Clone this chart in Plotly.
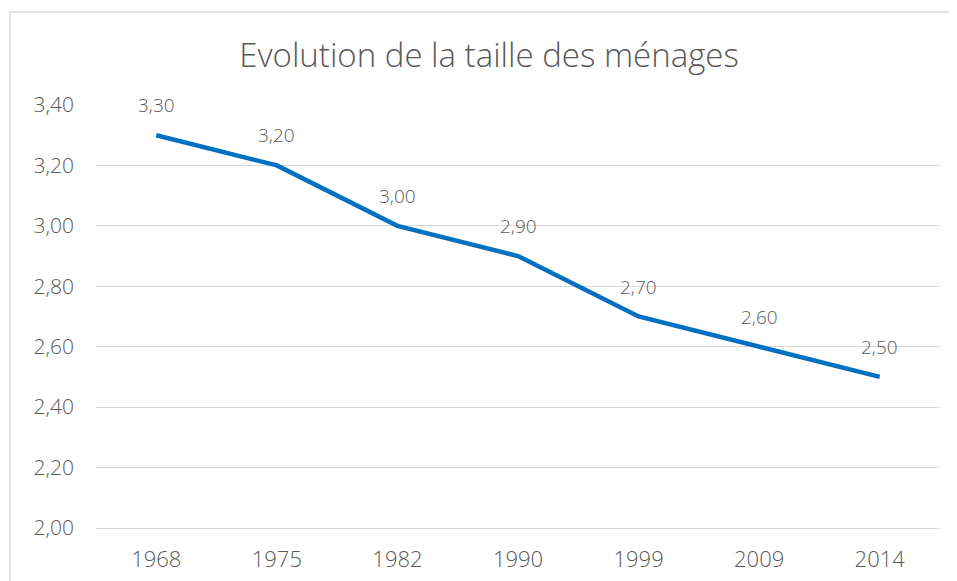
import plotly.graph_objects as go

years = ["1968", "1975", "1982", "1990", "1999", "2009", "2014"]
sizes = [3.30, 3.20, 3.00, 2.90, 2.70, 2.60, 2.50]
y_ticks = [2.00, 2.20, 2.40, 2.60, 2.80, 3.00, 3.20, 3.40]

FONT = "Open Sans"
GREY = "#595959"
GRID = "#d9d9d9"
WT = 300

fig = go.Figure()
fig.add_trace(go.Scatter(
    x=years, y=sizes, mode="lines",
    line=dict(color="#0070C0", width=4.5),
    hoverinfo="skip", showlegend=False,
))

for i, v in enumerate(sizes):
    fig.add_annotation(
        x=i, y=v, text=f"{v:.2f}".replace(".", ","),
        showarrow=False, yshift=30,
        font=dict(family=FONT, size=19, color=GREY, weight=WT),
    )

# page body has an 8px margin: shrink figure so it lands like the reference
OFF = 8
W, H = 957 - OFF, 581 - OFF
l, r, t, b = 96 - OFF, 17, 105 - OFF, 53
pw, ph = W - l - r, H - t - b

def px_x(p):
    return (p - OFF - l) / pw

def px_y(p):
    return (H - b - (p - OFF)) / ph

fig.add_shape(type="rect", xref="paper", yref="paper",
              x0=px_x(10), x1=px_x(975), y0=px_y(12), y1=px_y(600),
              line=dict(color=GRID, width=1.5), layer="below")

fig.update_layout(
    width=W, height=H,
    margin=dict(l=l, r=r, t=t, b=b, autoexpand=False),
    paper_bgcolor="white", plot_bgcolor="white",
    separators=", ",
    title=dict(text="Evolution de la taille des ménages",
               x=(489 - OFF) / W, xref="container", xanchor="center",
               y=1 - (55 - OFF) / H, yref="container", yanchor="middle",
               font=dict(family=FONT, size=33, color=GREY, weight=WT)),
    xaxis=dict(type="category", range=[-0.5, 6.5], showgrid=False,
               showline=True, linecolor=GRID, linewidth=1.2,
               zeroline=False, ticks="", automargin=False,
               ticklabelstandoff=11,
               tickfont=dict(family=FONT, size=22, color=GREY, weight=WT)),
    yaxis=dict(range=[2.0, 3.4], tickvals=y_ticks, tickformat=".2f",
               showgrid=True, gridcolor=GRID, gridwidth=1.2,
               zeroline=False, showline=False, ticks="", automargin=False,
               ticklabelstandoff=21,
               tickfont=dict(family=FONT, size=21, color=GREY, weight=WT)),
)

fig.write_html("out.html")
